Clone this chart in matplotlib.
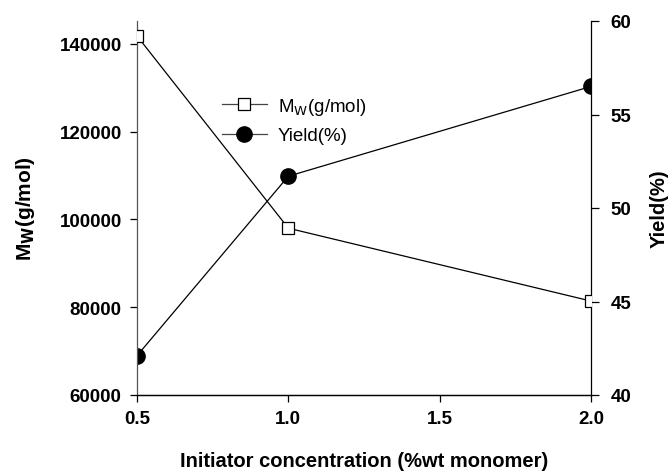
import matplotlib
matplotlib.use("Agg")
import matplotlib.pyplot as plt

conc = [0.5, 1.0, 2.0]
mw = [141800, 98000, 81400]
yield_pct = [42.1, 51.7, 56.5]
xticks = [0.5, 1.0, 1.5, 2.0]
left_ticks = [60000, 80000, 100000, 120000, 140000]
right_ticks = [40, 45, 50, 55, 60]

plt.rcParams['font.family'] = ['Liberation Sans', 'DejaVu Sans']

fig = plt.figure(figsize=(6.7, 4.77), dpi=100)
ax = fig.add_axes([137 / 670, 1 - 396 / 477, (591 - 137) / 670, (396 - 22) / 477])
ax2 = ax.twinx()

l1, = ax.plot(conc, mw, color='black', lw=0.9, marker='s', ms=8,
              mfc='white', mec='black', mew=0.9, label=r'M$_\mathrm{W}$(g/mol)', zorder=3)
l2, = ax2.plot(conc, yield_pct, color='black', lw=0.9, marker='o', ms=11,
               mfc='black', mec='black', label='Yield(%)', zorder=3)

ax.set_xlim(0.5, 2.0)
ax.set_ylim(60000, 145200)
ax2.set_ylim(40, 60)
ax.set_xticks(xticks)
ax.set_xticklabels([f"{t:.1f}" for t in xticks])
ax.set_yticks(left_ticks)
ax2.set_yticks(right_ticks)

for a in (ax, ax2):
    a.spines['top'].set_visible(False)
    for s in a.spines.values():
        s.set_linewidth(0.9)
    a.tick_params(direction='out', length=5, width=0.9, labelsize=13.5, pad=6)
    for lab in a.get_xticklabels() + a.get_yticklabels():
        lab.set_fontweight('bold')
ax.spines['left'].set_color('#555555')
ax.spines['right'].set_visible(False)
ax2.spines['left'].set_visible(False)
ax2.tick_params(axis='y', length=6, pad=8)

ax.set_xlabel('Initiator concentration (%wt monomer)', fontsize=14.5, fontweight='bold', labelpad=17)
ax.set_ylabel(r'M$_\mathbf{W}$(g/mol)', fontsize=15, fontweight='bold', labelpad=16)
ax2.set_ylabel('Yield(%)', fontsize=14.5, fontweight='bold', labelpad=13)

leg = ax.legend(handles=[l1, l2], loc='upper left', bbox_to_anchor=(0.17, 0.82),
                frameon=False, fontsize=13.5, handlelength=2.4, handletextpad=0.6,
                borderaxespad=0, labelspacing=0.55)
for h in leg.legend_handles:
    h.set_color('#444444')
    h.set_markeredgecolor('black')

ax.set_zorder(ax2.get_zorder() + 1)
ax.patch.set_visible(False)

fig.savefig('out.png', dpi=100)
